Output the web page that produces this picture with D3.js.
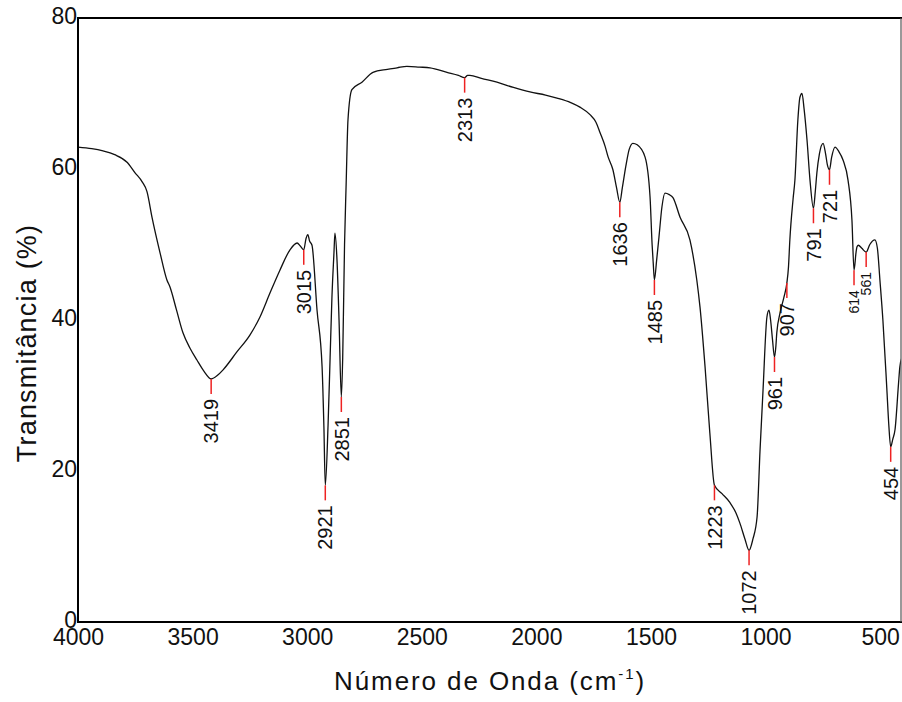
<!DOCTYPE html>
<html>
<head>
<meta charset="utf-8">
<script src="https://cdn.jsdelivr.net/npm/d3@7"></script>
<style>
  html, body { margin: 0; padding: 0; background: #fff; }
  svg { display: block; font-family: "Liberation Sans", Arial, sans-serif; }
</style>
</head>
<body>
<svg id="chart" width="902" height="702"></svg>
<script>
// FTIR spectrum: wavenumber (cm-1) and transmittance (%)
const wavenumbers = [
  4000, 3940, 3891, 3840, 3786, 3751, 3720, 3699, 3677, 3642, 3612, 3599, 3570, 3542, 3510, 3481, 3450, 3419, 3390, 3367,
  3306, 3250, 3206, 3162, 3119, 3075, 3044, 3030, 3015, 3005, 2997, 2990, 2979, 2957, 2935, 2927, 2921, 2909, 2900, 2892,
  2883, 2879, 2870, 2861, 2851, 2845, 2837, 2830, 2822, 2805, 2761, 2713, 2650, 2608, 2565, 2510, 2464, 2390, 2340, 2313,
  2300, 2290, 2240, 2172, 2100, 2028, 1960, 1910, 1850, 1810, 1766, 1740, 1722, 1700, 1687, 1666, 1650, 1636, 1625, 1610,
  1595, 1579, 1560, 1526, 1504, 1495, 1490, 1485, 1475, 1465, 1452, 1439, 1420, 1404, 1373, 1330, 1300, 1286, 1264, 1243,
  1223, 1190, 1155, 1130, 1112, 1090, 1072, 1055, 1037, 1024, 1011, 994, 985, 978, 970, 961, 955, 951, 937, 920,
  907, 900, 894, 880, 872, 859, 850, 841, 832, 819, 806, 791, 783, 776, 765, 749, 738, 730, 721, 712,
  697, 680, 662, 640, 623, 614, 605, 601, 595, 580, 561, 545, 523, 512, 501, 488, 471, 462, 454, 445,
  435, 420, 414, 405
];
const transmittance = [
  62.9, 62.7, 62.4, 61.9, 60.9, 59.5, 58.3, 57.0, 53.6, 48.9, 45.3, 44.4, 41.3, 38.3, 36.2, 34.7, 33.2, 32.2, 32.7, 33.4,
  35.8, 38.0, 40.4, 43.6, 46.6, 49.3, 50.2, 49.8, 49.3, 50.8, 51.3, 50.5, 49.9, 41.3, 33.8, 25.8, 18.1, 26.0, 35.0, 43.0,
  49.0, 51.5, 48.0, 40.0, 29.8, 35.0, 50.0, 58.0, 66.5, 70.5, 71.5, 72.8, 73.2, 73.4, 73.6, 73.5, 73.4, 72.8, 72.4, 72.1,
  72.4, 72.4, 72.0, 71.5, 70.8, 70.2, 69.8, 69.4, 68.8, 68.2, 67.2, 66.2, 64.8, 63.0, 61.6, 59.9, 57.5, 55.6, 57.5, 60.3,
  62.6, 63.4, 63.2, 61.6, 56.3, 50.0, 47.5, 45.3, 48.0, 51.0, 55.0, 56.8, 56.6, 56.2, 53.6, 50.6, 45.3, 41.7, 33.8, 25.0,
  18.1, 17.0, 15.8, 14.5, 13.1, 11.0, 9.5, 11.0, 13.9, 22.8, 30.7, 40.4, 41.3, 40.0, 37.5, 35.1, 36.5, 38.3, 40.9, 43.0,
  44.9, 47.0, 50.6, 56.0, 58.5, 66.5, 69.5, 70.0, 68.0, 63.8, 58.5, 54.8, 57.0, 59.5, 62.0, 63.4, 62.0, 60.5, 59.9, 61.5,
  62.9, 62.3, 61.2, 58.5, 53.2, 46.6, 49.0, 49.7, 49.9, 49.5, 49.0, 50.0, 50.6, 49.5, 45.3, 40.0, 31.0, 26.0, 23.2, 24.2,
  25.5, 31.5, 33.8, 35.0
];

// Assigned bands
const peakLabels = ["3419", "3015", "2921", "2851", "2313", "1636", "1485", "1223", "1072", "961", "907", "791", "721", "614", "561", "454"];
const peakSmall  = [false, false, false, false, false, false, false, false, false, false, false, false, false, true, true, false];

const xTicks = [4000, 3500, 3000, 2500, 2000, 1500, 1000, 500];
const yTicks = [0, 20, 40, 60, 80];

const xTitle = "Número de Onda (cm";
const xTitleSup = "-1";
const yTitle = "Transmitância (%)";

const svg = d3.select("#chart");
const W = 902, H = 702;
const plot = { left: 78, top: 18, right: 901, bottom: 622 };

svg.append("rect").attr("width", W).attr("height", H).attr("fill", "#fff");

const x = d3.scaleLinear().domain([4000, 409]).range([plot.left, plot.right]);
const y = d3.scaleLinear().domain([0, 80]).range([plot.bottom, plot.top]);

const spectrum = wavenumbers.map((w, i) => ({ w, t: transmittance[i] }));

svg.append("clipPath").attr("id", "plot-clip")
  .append("rect")
  .attr("x", plot.left).attr("y", plot.top)
  .attr("width", plot.right - plot.left).attr("height", plot.bottom - plot.top);

const g = svg.append("g").attr("clip-path", "url(#plot-clip)");

// Spectrum trace
const line = d3.line()
  .x(d => x(d.w))
  .y(d => y(d.t))
  .curve(d3.curveMonotoneX);

g.append("path")
  .datum(spectrum)
  .attr("fill", "none")
  .attr("stroke", "#111")
  .attr("stroke-width", 1.3)
  .attr("stroke-linejoin", "round")
  .attr("d", line);

// Band markers: short red drop line under each band, then its wavenumber
const tickLen = 15;
const peaks = peakLabels.map((lab, i) => {
  const w = +lab;
  const idx = wavenumbers.indexOf(w);
  return { w, t: transmittance[idx], lab, small: peakSmall[i] };
});

const markers = svg.append("g");
markers.selectAll("line")
  .data(peaks)
  .join("line")
  .attr("x1", d => x(d.w)).attr("x2", d => x(d.w))
  .attr("y1", d => y(d.t)).attr("y2", d => y(d.t) + tickLen)
  .attr("stroke", "#ee2222")
  .attr("stroke-width", 1.5);

markers.selectAll("text")
  .data(peaks)
  .join("text")
  .attr("transform", d => `translate(${x(d.w)},${y(d.t) + tickLen + 5}) rotate(-90)`)
  .attr("text-anchor", "end")
  .attr("dy", "0.36em")
  .attr("font-size", d => d.small ? 14 : 20)
  .attr("fill", "#111")
  .text(d => d.lab);

// Frame
const frame = svg.append("g").attr("stroke", "#000").attr("fill", "none");
frame.append("line").attr("x1", plot.left).attr("x2", plot.left).attr("y1", plot.top - 1).attr("y2", plot.bottom + 1).attr("stroke-width", 2);
frame.append("line").attr("x1", plot.left - 1).attr("x2", W).attr("y1", plot.bottom).attr("y2", plot.bottom).attr("stroke-width", 2);
frame.append("line").attr("x1", plot.left - 1).attr("x2", W).attr("y1", plot.top).attr("y2", plot.top).attr("stroke-width", 2);
frame.append("line").attr("x1", plot.right).attr("x2", plot.right).attr("y1", plot.top).attr("y2", plot.bottom).attr("stroke-width", 1.2).attr("stroke", "#555");

// Axes (labels only, no tick marks)
const xAxis = d3.axisBottom(x).tickValues(xTicks).tickSize(0).tickPadding(7).tickFormat(d3.format("d"));
const yAxis = d3.axisLeft(y).tickValues(yTicks).tickSize(0).tickPadding(1).tickFormat(d3.format("d"));

const gx = svg.append("g").attr("transform", `translate(0,${plot.bottom})`).call(xAxis);
const gy = svg.append("g").attr("transform", `translate(${plot.left},-2)`).call(yAxis);
[gx, gy].forEach(a => {
  a.select(".domain").remove();
  a.selectAll("text")
    .attr("font-family", "'Liberation Sans', Arial, sans-serif")
    .attr("font-size", 23)
    .attr("fill", "#111");
});

// Axis titles
const xt = svg.append("text")
  .attr("x", (plot.left + W) / 2)
  .attr("y", 690)
  .attr("text-anchor", "middle")
  .attr("font-size", 26)
  .attr("letter-spacing", 1.9)
  .attr("fill", "#111");
xt.append("tspan").text(xTitle);
xt.append("tspan").attr("font-size", 15).attr("dy", -11).text(xTitleSup);
xt.append("tspan").attr("dy", 11).text(")");

svg.append("text")
  .attr("transform", `translate(36,343) rotate(-90)`)
  .attr("text-anchor", "middle")
  .attr("font-size", 27)
  .attr("letter-spacing", 1.2)
  .attr("fill", "#111")
  .text(yTitle);
</script>
</body>
</html>
